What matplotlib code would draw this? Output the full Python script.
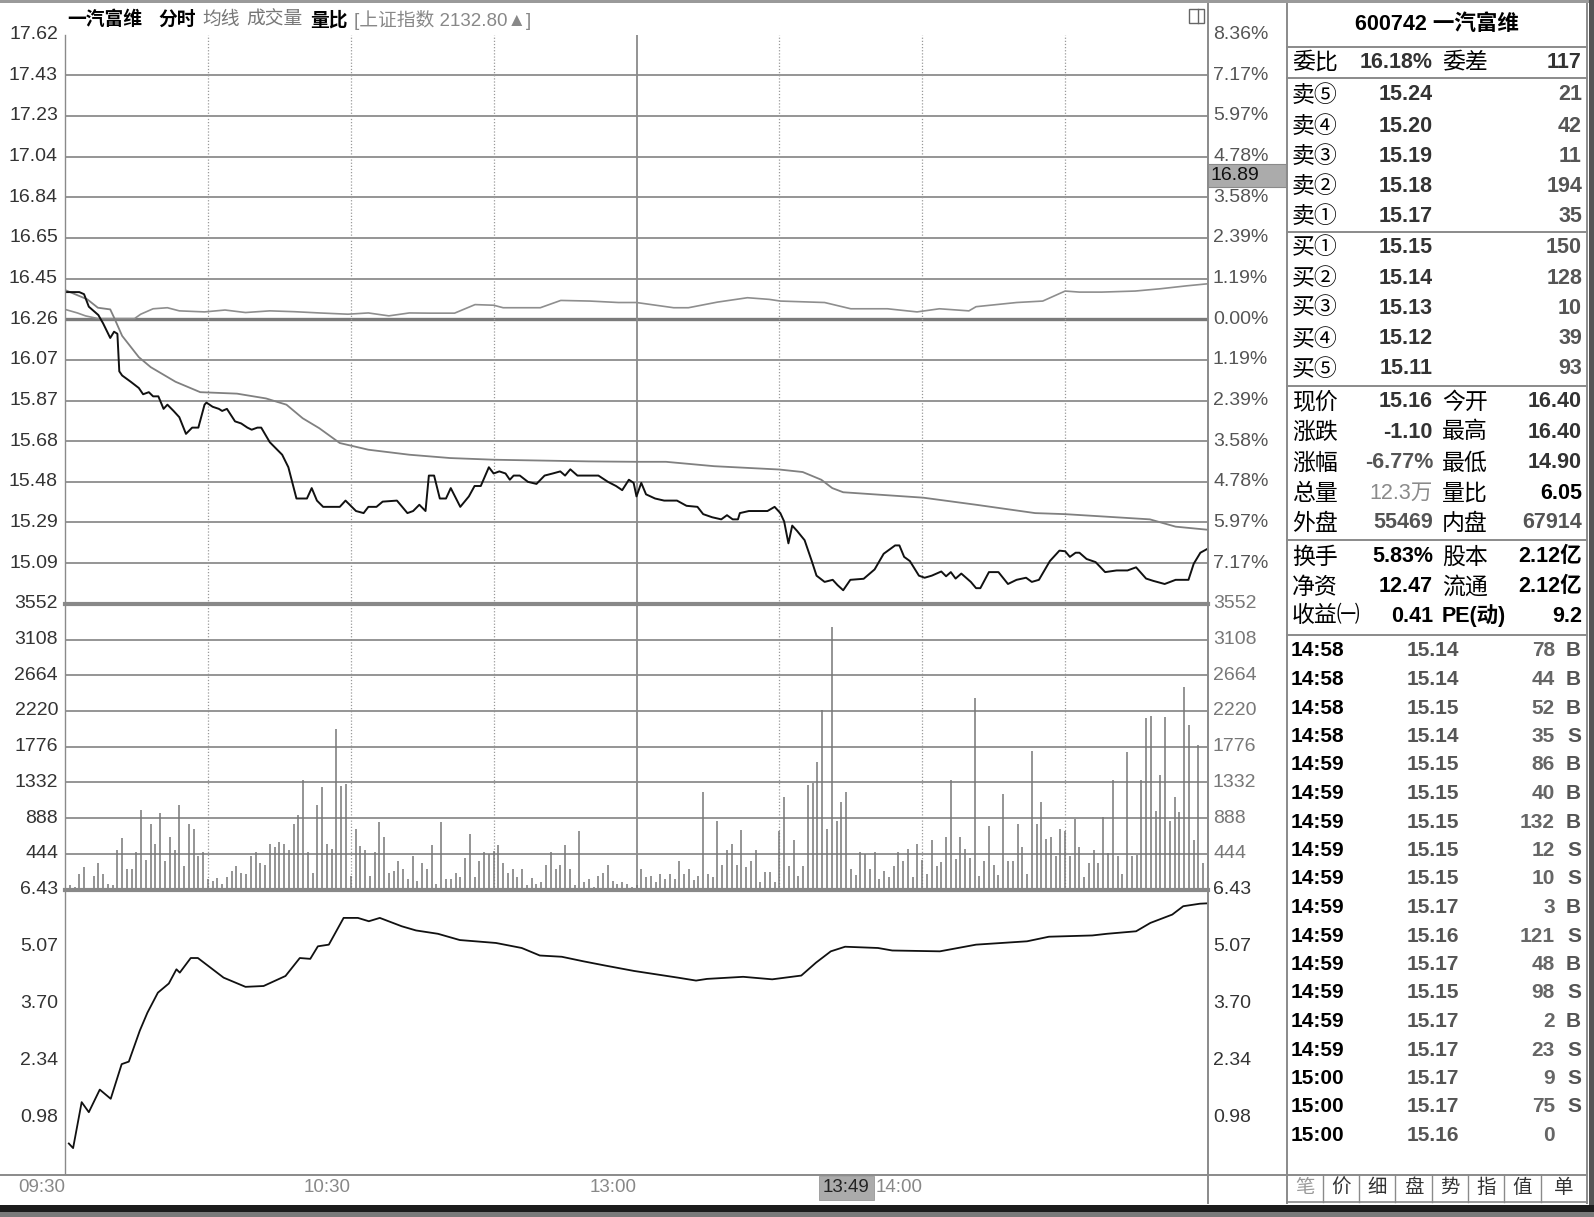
import numpy as np
import matplotlib.pyplot as plt
import matplotlib.transforms as mtransforms
from matplotlib.lines import Line2D
from matplotlib.patches import Rectangle

plt.rcParams['font.family'] = ['Liberation Sans', 'Noto Sans CJK SC', 'DejaVu Sans']

# ---------------- data ----------------
prev_close = 16.26
price_step = 0.195
price_labels = ['17.62', '17.43', '17.23', '17.04', '16.84', '16.65', '16.45', '16.26',
                '16.07', '15.87', '15.68', '15.48', '15.29', '15.09']
pct_labels = ['8.36%', '7.17%', '5.97%', '4.78%', '3.58%', '2.39%', '1.19%', '0.00%',
              '1.19%', '2.39%', '3.58%', '4.78%', '5.97%', '7.17%']
vol_labels = ['3552', '3108', '2664', '2220', '1776', '1332', '888', '444']
ratio_labels = ['6.43', '5.07', '3.70', '2.34', '0.98']
time_labels = ['09:30', '10:30', '13:00', '14:00']
time_label_min = [0, 60, 120, 180]
cursor_time, cursor_min = '13:49', 169
cursor_price = '16.89'

price_min = [0, 3, 4, 5, 7, 8, 9.5, 10.3, 11, 11.4, 12, 13.8, 15.5, 16.4, 17.6, 18.5, 19.6, 20.7,
             21.5, 22.8, 24, 25.4, 26.7, 28, 29.3, 29.7, 31, 32.3, 33, 34, 35.7, 37, 38.3, 39.2,
             40.4, 41.2, 43, 44.3, 45.6, 46.9, 47.8, 48.6, 50.8, 51.8, 52.9, 54.2, 57.7, 58.9,
             61.1, 62.7, 63.7, 65.4, 66.7, 69.7, 71.9, 73.1, 74.4, 75.7, 76.4, 77.5, 78.7, 80,
             81, 83, 84.8, 86, 87.3, 89, 90, 91.2, 92.5, 93.4, 94.2, 95.5, 97.2, 99, 100.7,
             102.4, 104, 105, 106.1, 107.6, 110.2, 112, 114, 115.7, 117, 118.4, 119.4, 120, 121,
             122, 123.9, 125.8, 128.5, 130.5, 132.8, 134, 135.9, 137.8, 139, 140.2, 141.3, 141.7,
             143.6, 147.5, 149, 150.2, 151, 151.9, 152.7, 153.7, 155.3, 156.8, 157.8, 159.5,
             161.2, 162.2, 163.4, 164.9, 167.7, 170, 171.9, 174.3, 175.2, 176.2, 177.4, 179.3,
             180.5, 182, 184, 185, 186, 187, 188.2, 190.2, 191.3, 192.2, 194, 196, 198, 199.8,
             201.8, 203, 204.5, 206.8, 208.8, 210, 211, 212.2, 213, 214.5, 216.4, 218.4, 220.8,
             223.1, 224.9, 227, 228.5, 230.9, 233.2, 235.9, 237, 238.4, 240]
price_val = [16.39, 16.39, 16.38, 16.32, 16.28, 16.24, 16.17, 16.20, 16.19, 16.01, 15.99, 15.96,
             15.93, 15.90, 15.91, 15.89, 15.89, 15.83, 15.85, 15.82, 15.79, 15.71, 15.74, 15.74,
             15.85, 15.86, 15.84, 15.83, 15.82, 15.83, 15.77, 15.76, 15.74, 15.73, 15.74, 15.74,
             15.67, 15.64, 15.61, 15.55, 15.47, 15.40, 15.40, 15.45, 15.39, 15.36, 15.36, 15.39,
             15.34, 15.33, 15.36, 15.36, 15.385, 15.39, 15.33, 15.34, 15.37, 15.34, 15.51, 15.51,
             15.40, 15.40, 15.45, 15.36, 15.41, 15.46, 15.46, 15.55, 15.52, 15.53, 15.52, 15.49,
             15.51, 15.51, 15.48, 15.47, 15.51, 15.52, 15.53, 15.51, 15.54, 15.51, 15.51, 15.51,
             15.48, 15.46, 15.44, 15.49, 15.475, 15.41, 15.475, 15.42, 15.40, 15.39, 15.39,
             15.365, 15.36, 15.325, 15.31, 15.30, 15.32, 15.30, 15.30, 15.33, 15.34, 15.34,
             15.36, 15.33, 15.29, 15.185, 15.27, 15.245, 15.20, 15.10, 15.03, 15.00, 15.01,
             14.985, 14.96, 15.01, 15.015, 15.06, 15.135, 15.175, 15.175, 15.12, 15.10, 15.03,
             15.02, 15.03, 15.05, 15.027, 15.047, 15.016, 15.04, 15.00, 14.97, 14.97, 15.047,
             15.047, 14.99, 15.01, 15.02, 15.00, 15.01, 15.10, 15.15, 15.147, 15.12, 15.14, 15.14,
             15.11, 15.095, 15.047, 15.055, 15.055, 15.07, 15.016, 15.005, 14.99, 15.01, 15.01,
             15.087, 15.14, 15.16]

avg_min = [0, 4.7, 6.9, 9.5, 10.3, 12, 15.5, 18, 23.2, 28.4, 36.1, 42.2, 46.5, 49.9, 53.4, 57.7,
           63.7, 72.3, 80.9, 90.1, 110, 120, 126.2, 136.3, 150, 154.9, 158.8, 161.1, 163.4,
           180.2, 191.3, 203.7, 210, 227.8, 233.2, 240]
avg_val = [16.40, 16.355, 16.315, 16.307, 16.268, 16.18, 16.078, 16.03, 15.96, 15.91, 15.903,
           15.88, 15.85, 15.785, 15.737, 15.666, 15.634, 15.61, 15.594, 15.586, 15.578, 15.576,
           15.576, 15.555, 15.539, 15.527, 15.49, 15.45, 15.43, 15.404, 15.37, 15.33, 15.325,
           15.30, 15.265, 15.25]

idx_min = [0, 2.6, 4.3, 6.9, 14.6, 15.9, 18.5, 21.5, 24, 29.3, 33.6, 37.9, 43, 48.2, 53.4, 59.4,
           63.7, 68, 72.3, 76.6, 81.8, 86.1, 90, 92, 99.8, 104.1, 110.2, 116.2, 120, 127.8,
           130.9, 137, 143.3, 147.9, 150.2, 159.5, 165, 172.7, 178.9, 183.6, 189.8, 191.3,
           199.8, 205.3, 210, 213, 217.7, 224.7, 230, 235.5, 240]
idx_val = [16.307, 16.29, 16.276, 16.263, 16.263, 16.284, 16.31, 16.315, 16.30, 16.295, 16.304,
           16.292, 16.30, 16.296, 16.29, 16.284, 16.29, 16.276, 16.29, 16.289, 16.289, 16.33,
           16.327, 16.315, 16.315, 16.35, 16.347, 16.34, 16.34, 16.315, 16.315, 16.342, 16.363,
           16.355, 16.347, 16.34, 16.31, 16.31, 16.295, 16.31, 16.30, 16.32, 16.34, 16.347,
           16.395, 16.39, 16.39, 16.395, 16.406, 16.42, 16.43]

volume = [40, 55, 30, 190, 275, 20, 170, 330, 190, 72, 50,
          486, 635, 250, 250, 461, 994, 368, 812, 571, 952,
          351, 656, 486, 1049, 296, 812, 753, 414, 461, 127,
          106, 148, 72, 156, 233, 292, 211, 190, 414, 461,
          334, 309, 571, 529, 592, 571, 486, 812, 931, 1366,
          461, 211, 1049, 1277, 571, 508, 1997, 1290, 1311, 170,
          753, 537, 486, 170, 461, 833, 656, 211, 233, 351,
          254, 127, 414, 106, 330, 254, 550, 72, 833, 127,
          127, 207, 156, 393, 690, 156, 351, 461, 436, 478,
          554, 330, 211, 254, 156, 254, 50, 148, 72, 93,
          309, 461, 254, 309, 554, 254, 50, 732, 93, 127,
          30, 170, 211, 309, 106, 72, 88, 67, 25, 60,
          256, 159, 172, 96, 193, 130, 193, 130, 352, 193,
          256, 117, 172, 1207, 193, 151, 855, 310, 486, 570,
          310, 737, 277, 352, 494, 88, 214, 214, 96, 725,
          1148, 289, 612, 172, 289, 1303, 1324, 1584, 2237, 746,
          3260, 855, 1094, 1207, 256, 180, 465, 436, 256, 465,
          130, 235, 159, 289, 465, 360, 507, 151, 570, 369,
          193, 612, 297, 339, 654, 1358, 373, 654, 507, 394,
          2384, 172, 360, 788, 310, 184, 1186, 352, 352, 809,
          528, 193, 1722, 809, 1094, 624, 654, 411, 750, 725,
          415, 872, 528, 159, 331, 494, 331, 897, 457, 1358,
          415, 193, 1710, 415, 432, 1358, 2129, 2162, 976, 1429,
          2149, 855, 1148, 968, 2518, 2045, 612, 1798, 330, 150]

ratio_min = [0.8, 1.7, 3.5, 5, 7.3, 9.6, 11.9, 13.4, 15.7, 17.3, 19.5, 21.8, 23.4, 24.1, 26.4,
             27.9, 33.3, 37.9, 41.7, 46.3, 49.3, 51.5, 53.1, 55.4, 58.5, 61.5, 63.8, 66.1, 70.7,
             73.7, 78.3, 82.9, 90.5, 95.9, 99.7, 104.3, 108.9, 113.4, 119.5, 124.1, 128.7,
             132.5, 134.8, 142.4, 148.5, 154.6, 157.7, 160.8, 163.8, 170.7, 173.7, 183.7, 191.3,
             202, 206.6, 215.7, 218.8, 224.9, 227.9, 232.5, 234.8, 238.3, 240]
ratio_val = [0.35, 0.24, 1.34, 1.10, 1.64, 1.42, 2.25, 2.31, 3.05, 3.48, 3.96, 4.18, 4.52, 4.44,
             4.79, 4.79, 4.32, 4.10, 4.12, 4.36, 4.79, 4.77, 5.07, 5.11, 5.75, 5.75, 5.67, 5.75,
             5.55, 5.45, 5.37, 5.22, 5.15, 5.03, 4.85, 4.82, 4.71, 4.61, 4.48, 4.40, 4.32, 4.25,
             4.29, 4.34, 4.28, 4.37, 4.68, 4.95, 5.06, 5.03, 4.97, 4.95, 5.11, 5.19, 5.30, 5.33,
             5.37, 5.43, 5.63, 5.83, 6.03, 6.09, 6.10]

# right panel
stock_title = '600742 一汽富维'
ask_labels = ['卖⑤', '卖④', '卖③', '卖②', '卖①']
ask_prices = ['15.24', '15.20', '15.19', '15.18', '15.17']
ask_vols = ['21', '42', '11', '194', '35']
bid_labels = ['买①', '买②', '买③', '买④', '买⑤']
bid_prices = ['15.15', '15.14', '15.13', '15.12', '15.11']
bid_vols = ['150', '128', '10', '39', '93']
quote_rows = [('现价', '15.16', '今开', '16.40'),
              ('涨跌', '-1.10', '最高', '16.40'),
              ('涨幅', '-6.77%', '最低', '14.90'),
              ('总量', '12.3万', '量比', '6.05'),
              ('外盘', '55469', '内盘', '67914')]
info_rows = [('换手', '5.83%', '股本', '2.12亿'),
             ('净资', '12.47', '流通', '2.12亿'),
             ('收益㈠', '0.41', 'PE(动)', '9.2')]
trade_times = ['14:58', '14:58', '14:58', '14:58', '14:59', '14:59', '14:59', '14:59', '14:59',
               '14:59', '14:59', '14:59', '14:59', '14:59', '14:59', '15:00', '15:00', '15:00']
trade_prices = ['15.14', '15.14', '15.15', '15.14', '15.15', '15.15', '15.15', '15.15', '15.15',
                '15.17', '15.16', '15.17', '15.15', '15.17', '15.17', '15.17', '15.17', '15.16']
trade_vols = ['78', '44', '52', '35', '86', '40', '132', '12', '10', '3', '121', '48', '98', '2',
              '23', '9', '75', '0']
trade_sides = ['B', 'B', 'B', 'S', 'B', 'B', 'B', 'S', 'S', 'B', 'S', 'B', 'S', 'B', 'S', 'S', 'S', '']
buttons = ['笔', '价', '细', '盘', '势', '指', '值', '单']

# ---------------- layout helpers (pixel coords, y down) ----------------
W, H = 1594, 1217
fig = plt.figure(figsize=(W / 100, H / 100), dpi=100)
fig.patch.set_facecolor('white')


def box(x0, y0, x1, y1):
    return [x0 / W, 1 - y1 / H, (x1 - x0) / W, (y1 - y0) / H]


def hline(y, x0, x1, color='#888888', lw=1.0, z=5):
    fig.add_artist(Line2D([x0 / W, x1 / W], [1 - y / H, 1 - y / H], color=color, lw=lw, zorder=z))


def vline(x, y0, y1, color='#888888', lw=1.0, z=5):
    fig.add_artist(Line2D([x / W, x / W], [1 - y0 / H, 1 - y1 / H], color=color, lw=lw, zorder=z))


def rect(x0, y0, x1, y1, fc, ec='none', lw=0, z=6):
    fig.add_artist(Rectangle((x0 / W, 1 - y1 / H), (x1 - x0) / W, (y1 - y0) / H,
                             transform=fig.transFigure, fc=fc, ec=ec, lw=lw, zorder=z))


def T(x, y, s, ha='left', size=15.5, color='black', weight='normal', z=10):
    fig.text(x / W, 1 - y / H, s, ha=ha, va='center', fontsize=size, color=color,
             fontweight=weight, zorder=z)


L, R = 65, 1208
P_TOP, P_BOT, V_BOT, R_BOT = 34.6, 603.8, 889.5, 1174

ax_p = fig.add_axes(box(L, P_TOP, R, P_BOT))
ax_v = fig.add_axes(box(L, P_BOT, R, V_BOT))
ax_r = fig.add_axes(box(L, V_BOT, R, R_BOT))
for ax in (ax_p, ax_v, ax_r):
    ax.set_xlim(0, 240)
    ax.axis('off')
    ax.patch.set_alpha(0)

grid_c = '#8c8c8c'
vgrid_min = [30, 60, 90, 150, 180, 210]

# ---------------- price pane ----------------
n_up = 7
ax_p.set_ylim(prev_close - n_up * price_step, prev_close + n_up * price_step)
levels = [prev_close + (n_up - i) * price_step for i in range(len(price_labels))]
for i, lv in enumerate(levels):
    if i == 0:
        continue
    if lv == prev_close:
        ax_p.axhline(lv, color='#7a7a7a', lw=2.4, zorder=1)
    else:
        ax_p.axhline(lv, color=grid_c, lw=1.3, zorder=1)
for m in vgrid_min:
    ax_p.axvline(m, color='#9a9a9a', lw=0.9, ls=(0, (1, 1.5)), zorder=1)
    ax_v.axvline(m, color='#9a9a9a', lw=0.9, ls=(0, (1, 1.5)), zorder=1)
ax_p.axvline(120, color='#8a8a8a', lw=1.3, zorder=1)
ax_v.axvline(120, color='#8a8a8a', lw=1.3, zorder=1)

ax_p.plot(idx_min, idx_val, color='#8e8e8e', lw=1.2, zorder=3)
ax_p.plot(avg_min, avg_val, color='#808080', lw=1.3, zorder=3)
ax_p.plot(price_min, price_val, color='#111111', lw=1.4, zorder=4)

tp = mtransforms.blended_transform_factory(fig.transFigure, ax_p.transData)
for lab, pct, lv in zip(price_labels, pct_labels, levels):
    ax_p.text(58 / W, lv, lab, transform=tp, ha='right', va='center', fontsize=14,
              color='#333333', clip_on=False)
    ax_p.text(1213 / W, lv, pct, transform=tp, ha='left', va='center', fontsize=14,
              color='#555555', clip_on=False)

# ---------------- volume pane ----------------
vol_top = int(vol_labels[0])
ax_v.set_ylim(0, vol_top)
vol_levels = [int(v) for v in vol_labels]
for lv in vol_levels[1:]:
    ax_v.axhline(lv, color=grid_c, lw=1.3, zorder=1)
ax_v.vlines(np.arange(len(volume)), 0, volume, color='#777777', lw=1.1, zorder=3)
tv = mtransforms.blended_transform_factory(fig.transFigure, ax_v.transData)
for lab, lv in zip(vol_labels, vol_levels):
    ax_v.text(58 / W, lv, lab, transform=tv, ha='right', va='center', fontsize=14,
              color='#333333', clip_on=False)
    ax_v.text(1213 / W, lv, lab, transform=tv, ha='left', va='center', fontsize=14,
              color='#777777', clip_on=False)

# ---------------- ratio pane ----------------
r_vals = [float(v) for v in ratio_labels]
r_step = r_vals[0] - r_vals[1]
ax_r.set_ylim(r_vals[-1] - r_step, r_vals[0])
ax_r.plot(ratio_min, ratio_val, color='#111111', lw=1.3, zorder=3)
tr = mtransforms.blended_transform_factory(fig.transFigure, ax_r.transData)
for lab, lv in zip(ratio_labels, r_vals):
    ax_r.text(58 / W, lv, lab, transform=tr, ha='right', va='center', fontsize=14,
              color='#333333', clip_on=False)
    ax_r.text(1213 / W, lv, lab, transform=tr, ha='left', va='center', fontsize=14,
              color='#333333', clip_on=False)

# time axis
tt = mtransforms.blended_transform_factory(ax_r.transData, fig.transFigure)
for lab, m in zip(time_labels, time_label_min):
    ax_r.text(m, 1 - 1188 / H, lab, transform=tt, ha='right', va='center', fontsize=13.5,
              color='#888888', clip_on=False)
ax_r.text(cursor_min, 1 - 1188 / H, cursor_time, transform=tt, ha='right', va='center',
          fontsize=13.5, color='#222222', clip_on=False, zorder=12,
          bbox=dict(boxstyle='square,pad=0.2', fc='#ababab', ec='#999999', lw=0.6))

# ---------------- frame lines ----------------
rect(0, 0, W, 3, '#9a9a9a')
vline(L, P_TOP, R_BOT, '#8a8a8a', 1.0)
vline(R, 0, 1203, '#8a8a8a', 1.4)
vline(1287, 0, 1203, '#8a8a8a', 1.4)
vline(1587, 0, 1203, '#8a8a8a', 1.4)
hline(P_BOT, L, R, '#888888', 3.0)
hline(V_BOT, L, R, '#888888', 3.0)
hline(1175, 0, 1587, '#8a8a8a', 1.4)
rect(0, 1205, W, 1212, '#1c1c1c')
rect(0, 1212, W, H, '#7a7a7a')
rect(1589, 0, W, 1205, '#555555')

# cursor price box and window icon
rect(1208, 164, 1286, 187, '#ababab', ec='#8a8a8a', lw=0.8, z=11)
T(1211, 176, cursor_price, size=14, color='#111111', z=12)
rect(1189, 9, 1204, 23, 'white', ec='#666666', lw=1.0, z=11)
vline(1198, 9, 23, '#666666', 1.0, z=12)

# header
T(67, 20, '一汽富维', size=13.5, weight='bold')
T(158, 20, '分时', size=13.5, weight='bold')
T(202, 20, '均线', size=13.5, color='#777777')
T(246, 20, '成交量', size=13.5, color='#777777')
T(310, 20, '量比', size=13.5, weight='bold')
T(354, 20, '[上证指数 2132.80▲]', size=13.5, color='#888888')

# ---------------- right panel ----------------
for y in (47, 78, 232, 386, 540, 635):
    hline(y, 1287, 1587, '#8a8a8a', 1.4)
T(1437, 25, stock_title, ha='center', size=15.5, weight='bold')

T(1292, 62, '委比', size=16.5)
T(1433, 62, '16.18%', ha='right', size=15.5, weight='bold', color='#333333')
T(1442, 62, '委差', size=16.5)
T(1582, 62, '117', ha='right', size=15.5, weight='bold', color='#333333')

ask_y = [95, 126, 156, 186, 216]
for y, lab, p, v in zip(ask_y, ask_labels, ask_prices, ask_vols):
    T(1292, y, lab, size=16.5)
    T(1433, y, p, ha='right', size=15.5, weight='bold', color='#333333')
    T(1582, y, v, ha='right', size=15.5, weight='bold', color='#555555')
bid_y = [248, 278, 308, 339, 369]
for y, lab, p, v in zip(bid_y, bid_labels, bid_prices, bid_vols):
    T(1292, y, lab, size=16.5)
    T(1433, y, p, ha='right', size=15.5, weight='bold', color='#333333')
    T(1582, y, v, ha='right', size=15.5, weight='bold', color='#555555')

quote_y = [402, 432, 463, 493, 523]
quote_c1 = ['#333333', '#333333', '#555555', '#8a8a8a', '#555555']
quote_c2 = ['#333333', '#333333', '#333333', '#000000', '#555555']
for y, (l1, v1, l2, v2), c1, c2 in zip(quote_y, quote_rows, quote_c1, quote_c2):
    T(1292, y, l1, size=16.5)
    T(1433, y, v1, ha='right', size=15.5, weight='normal' if '万' in v1 else 'bold', color=c1)
    T(1442, y, l2, size=16.5)
    T(1582, y, v2, ha='right', size=15.5, weight='bold', color=c2)

info_y = [557, 587, 616]
for y, (l1, v1, l2, v2) in zip(info_y, info_rows):
    T(1292, y, l1, size=16.5)
    T(1433, y, v1, ha='right', size=15.5, weight='bold')
    T(1442, y, l2, size=16.5 if 'PE' not in l2 else 15.5, weight='bold' if 'PE' in l2 else 'normal')
    T(1582, y, v2, ha='right', size=15.5, weight='bold')

for i in range(len(trade_times)):
    y = 651 + 28.5 * i
    T(1291, y, trade_times[i], size=15, weight='bold')
    T(1459, y, trade_prices[i], ha='right', size=15, weight='bold', color='#555555')
    T(1555, y, trade_vols[i], ha='right', size=15, weight='bold', color='#666666')
    if trade_sides[i]:
        T(1581, y, trade_sides[i], ha='right', size=15, weight='bold', color='#555555')

btn_edges = [1287, 1323, 1359, 1395, 1432, 1468, 1504, 1541, 1587]
hline(1202, 1287, 1587, '#8a8a8a', 1.2)
for e in btn_edges[1:-1]:
    vline(e, 1175, 1202, '#8a8a8a', 1.0)
for i, b in enumerate(buttons):
    cx = (btn_edges[i] + btn_edges[i + 1]) / 2
    T(cx, 1188, b, ha='center', size=14, color='#999999' if i == 0 else '#333333')

fig.savefig('out.png', dpi=100, facecolor='white')
